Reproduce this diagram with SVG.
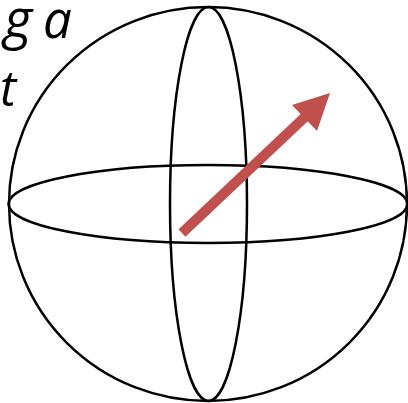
<svg xmlns="http://www.w3.org/2000/svg" width="408" height="403" viewBox="0 0 408 403">
  <style>
    .wire { fill: none; stroke: #000; stroke-width: 2.5; }
    .lbl { font-family: "Open Sans", "Noto Sans", sans-serif; font-style: italic; font-size: 49px; fill: #000; }
  </style>
  <rect width="408" height="403" fill="#fff"/>
  <g id="label">
    <text class="lbl" y="38"><tspan x="4" font-size="54">g</tspan><tspan x="30"> </tspan><tspan x="43" font-size="51">a</tspan></text>
    <text class="lbl" x="0" y="106">t</text>
  </g>
  <g id="sphere">
    <ellipse class="wire" cx="208" cy="204" rx="199" ry="197"/>
    <ellipse class="wire" cx="208.5" cy="204" rx="38.5" ry="197"/>
    <ellipse class="wire" cx="208" cy="204" rx="199.5" ry="39"/>
  </g>
  <g id="vector">
    <line x1="182" y1="233" x2="306" y2="116" stroke="#C0504D" stroke-width="10"/>
    <polygon points="330,93 292,105 317,131" fill="#C0504D"/>
  </g>
</svg>
